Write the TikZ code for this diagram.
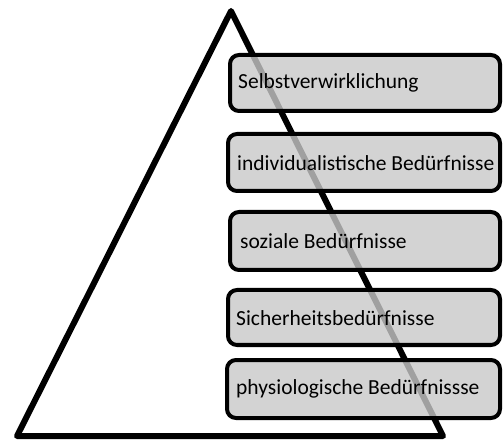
\documentclass[tikz,border=0pt]{standalone}
\usepackage{fontspec}
\setmainfont{Carlito}
\begin{document}
\begin{tikzpicture}[x=1pt,y=-1pt,
  level/.style={draw=black,line width=4pt,rounded corners=9pt,fill={rgb,255:red,200;green,200;blue,200},fill opacity=0.8,text opacity=1},
  lbl/.style={anchor=west,inner sep=0pt,font=\fontsize{21.5}{25}\selectfont,text=black}]
\useasboundingbox (0,0) rectangle (503,443);
\coordinate (apex) at (231,11);
\coordinate (bl) at (17,436);
\coordinate (br) at (443,436);
\draw[line width=6pt,line join=round] (apex) -- (bl) -- (br) -- cycle;
\path[level] (230,55) rectangle (500,111);
\path[level] (228,134) rectangle (500,191);
\path[level] (230,212) rectangle (500,270);
\path[level] (228,290) rectangle (500,345);
\path[level] (227,360) rectangle (500,418);
\node[lbl] (n1) at (238,83) {Selbstverwirklichung};
\node[lbl] (n2) at (237,163) {individualistische Bedürfnisse};
\node[lbl] (n3) at (240,241) {soziale Bedürfnisse};
\node[lbl] (n4) at (236,318) {Sicherheitsbedürfnisse};
\node[lbl] (n5) at (236,389) {physiologische Bedürfnissse};
\end{tikzpicture}
\end{document}
